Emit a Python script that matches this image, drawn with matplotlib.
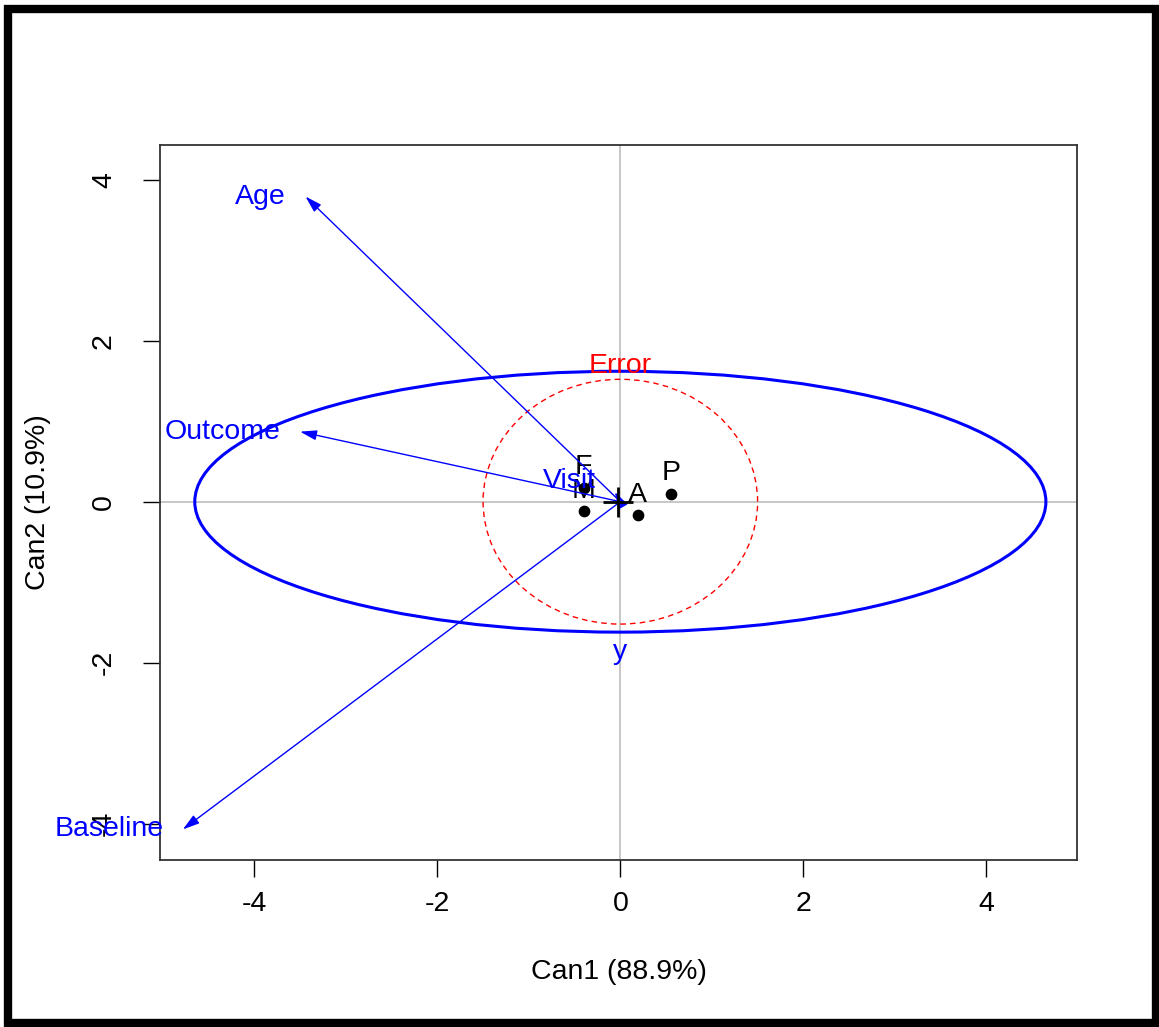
import matplotlib
matplotlib.use("Agg")
import matplotlib.pyplot as plt
from matplotlib.patches import Ellipse, Rectangle

plt.rcParams["font.family"] = ["Liberation Sans", "DejaVu Sans"]
plt.rcParams["axes.unicode_minus"] = False

# group means in canonical space
grupos = ["F", "M", "A", "P"]
grupo_x = [-0.40, -0.40, 0.19, 0.55]
grupo_y = [0.17, -0.12, -0.17, 0.10]

# variable vectors
variaveis = ["Age", "Outcome", "Baseline", "Visit"]
var_x = [-3.44, -3.50, -4.78, -0.06]
var_y = [3.79, 0.87, -4.07, 0.12]

# ellipses: (label, semi x, semi y)
elipse_y = ("y", 4.65, 1.62)
elipse_erro = ("Error", 1.50, 1.52)
rotulo_y_pos = (0.0, -1.87)
rotulo_erro_pos = (0.0, 1.68)

ticks = [-4, -2, 0, 2, 4]
fs = 20.5

fig = plt.figure(figsize=(11.59, 10.27), dpi=100)
ax = fig.add_axes([160 / 1159, 1 - 860 / 1027, 917 / 1159, 715 / 1027])
ax.set_xlim(-5.03, 4.99)
ax.set_ylim(-4.45, 4.43)

ax.axhline(0, color="#BEBEBE", lw=1.2, zorder=0)
ax.axvline(0, color="#BEBEBE", lw=1.2, zorder=0)

ax.add_patch(Ellipse((0, 0), 2 * elipse_y[1], 2 * elipse_y[2], fill=False,
                     ec="blue", lw=2.2))
ax.add_patch(Ellipse((0, 0), 2 * elipse_erro[1], 2 * elipse_erro[2], fill=False,
                     ec="red", lw=1, ls=(0, (4, 3))))
ax.text(*rotulo_y_pos, elipse_y[0], color="blue", fontsize=fs, ha="center", va="center")
ax.text(*rotulo_erro_pos, elipse_erro[0], color="red", fontsize=fs, ha="center", va="center")

# grand mean
ax.plot([-0.03], [-0.01], marker="+", color="black", ms=22, mew=2, ls="none", zorder=5)

ax.scatter(grupo_x, grupo_y, s=55, color="black", zorder=3)
for g, x, y in zip(grupos, grupo_x, grupo_y):
    ax.annotate(g, (x, y), xytext=(0, 15), textcoords="offset points",
                ha="center", va="center", fontsize=fs, color="black")

for v, x, y in zip(variaveis, var_x, var_y):
    ax.annotate("", xy=(x, y), xytext=(0, 0),
                arrowprops=dict(arrowstyle="-|>,head_length=1.0,head_width=0.3",
                                color="blue", lw=1, shrinkA=0, shrinkB=0))
    dy = 8 if v == "Visit" else 0
    ax.annotate(v, (x, y), xytext=(-14, dy), textcoords="offset points",
                ha="right", va="center", fontsize=fs, color="blue",
                annotation_clip=False)

ax.set_xticks(ticks)
ax.set_yticks(ticks)
ax.tick_params(axis="both", length=12, width=1, labelsize=fs)
ax.tick_params(axis="x", pad=10)
ax.tick_params(axis="y", pad=19)
for lab in ax.get_yticklabels():
    lab.set_rotation(90)
    lab.set_va("center")

for s in ax.spines.values():
    s.set_linewidth(1.3)
    s.set_color("#333333")

ax.set_xlabel("Can1 (88.9%)", fontsize=fs, va="center")
ax.xaxis.set_label_coords(0.5, (860 - 972) / 715)
ax.set_ylabel("Can2 (10.9%)", fontsize=fs, va="center")
ax.yaxis.set_label_coords((38 - 160) / 917, 0.5)

fig.add_artist(Rectangle((8 / 1159, 1 - 1023 / 1027), 1148 / 1159, 1014 / 1027,
                         transform=fig.transFigure, fill=False, ec="black", lw=6))

fig.savefig("out.png", dpi=100)
